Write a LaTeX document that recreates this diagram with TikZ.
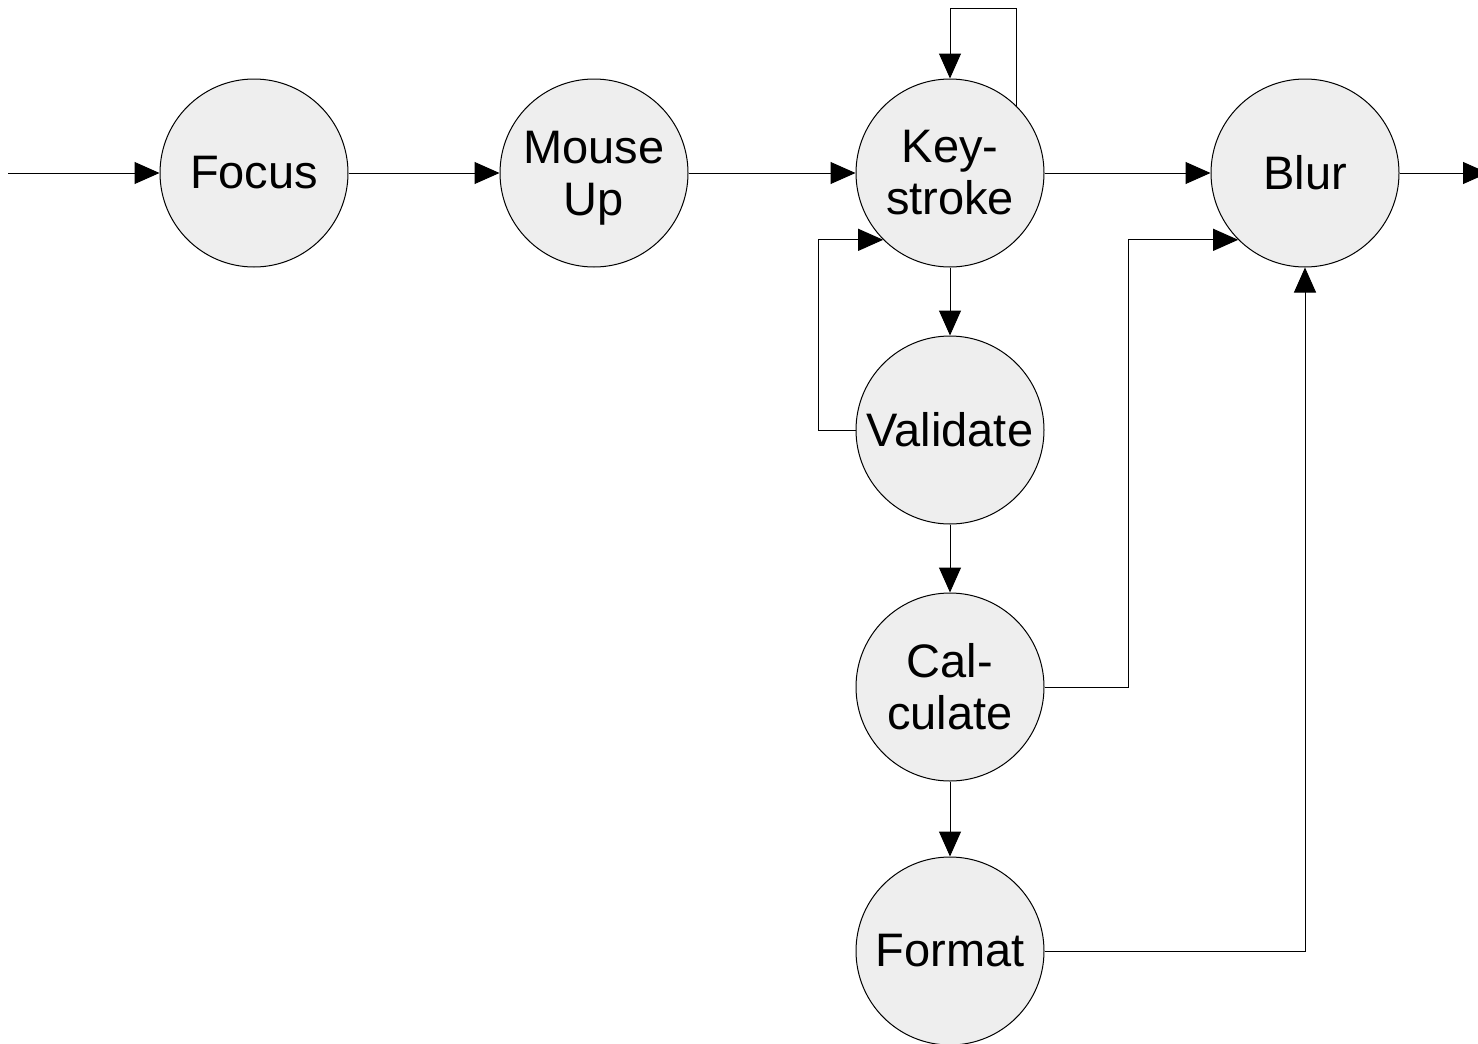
\documentclass[tikz,border=0pt]{standalone}
\usepackage{fontspec}
\setmainfont{Liberation Sans}
\usetikzlibrary{arrows.meta}
\definecolor{statefill}{HTML}{EEEEEE}
\tikzset{
  state/.style={circle,draw=black,line width=0.5pt,fill=statefill,minimum size=94pt,inner sep=0pt,align=center,
    font=\fontsize{23.5}{26}\selectfont},
  conn/.style={line width=0.5pt,-{Triangle[length=12.5pt,width=11pt]}},
}
\begin{document}
\begin{tikzpicture}[x=0.5pt,y=-0.5pt]
\clip (0,0) rectangle (1478,1044);
\useasboundingbox (0,0) rectangle (1478,1044);
\node[state] (focus) at (254,173) {Focus};
\node[state,text depth=0pt] (mouse) at (594,173) {Mouse\\Up};
\node[state] (key) at (950,173) {Key-\\stroke};
\node[state] (blur) at (1305,173) {Blur};
\node[state] (valid) at (950,430) {Validate};
\node[state] (calc) at (950,687) {Cal-\\culate};
\node[state] (fmt) at (950,951) {Format};
\coordinate (in) at (8,173);
\coordinate (out) at (1488,173);
\draw[conn] (in) -- (focus);
\draw[conn] (focus) -- (mouse);
\draw[conn] (mouse) -- (key);
\draw[conn] (key) -- (blur);
\draw[conn] (blur) -- (out);
\draw[conn] (key.north east) |- (950,8) -- (key.north);
\draw[conn] (key) -- (valid);
\draw[conn] (valid) -- (calc);
\draw[conn] (calc) -- (fmt);
\draw[conn] (valid.west) -- (818,430) |- (key.south west);
\draw[conn] (calc.east) -- (1128,687) |- (blur.south west);
\draw[conn] (fmt.east) -| (blur.south);
\end{tikzpicture}
\end{document}
